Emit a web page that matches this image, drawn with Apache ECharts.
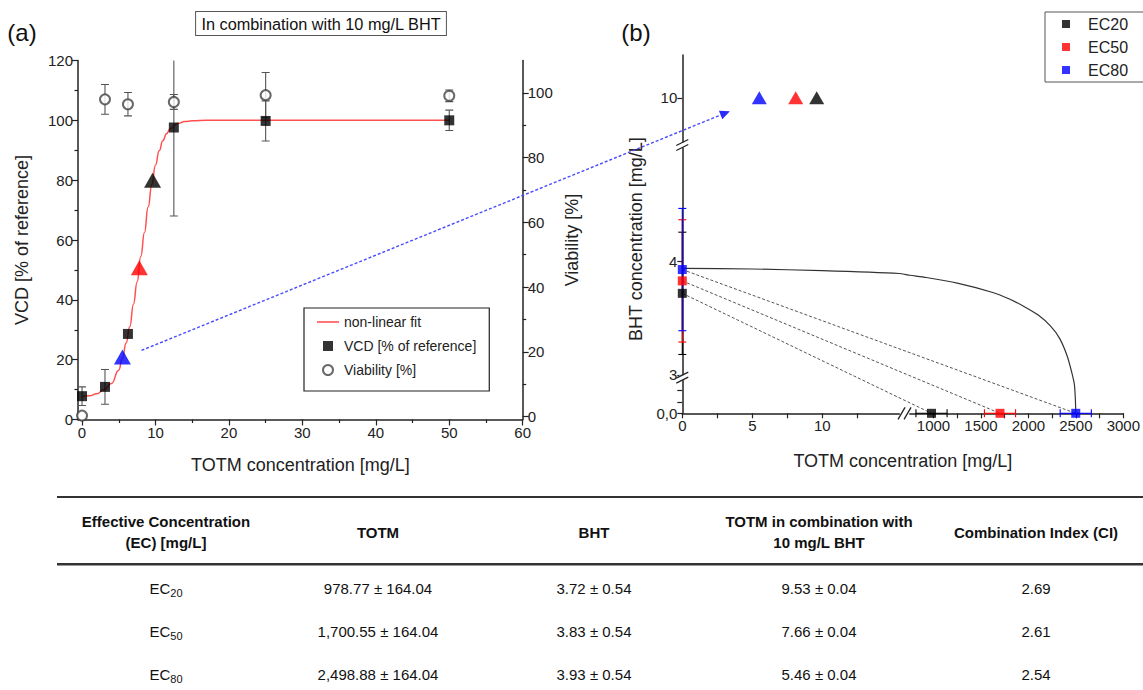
<!DOCTYPE html>
<html>
<head>
<meta charset="utf-8">
<title>TOTM + BHT</title>
<script src="https://cdn.jsdelivr.net/npm/echarts@6.0.0/dist/echarts.min.js"></script>
<style>
html,body{margin:0;padding:0;background:#ffffff;}
#chart{width:1143px;height:690px;}
</style>
</head>
<body>
<div id="chart"></div>
<script>
// ===== Panel (a) data =====
const totmConc = [0, 3.125, 6.25, 12.5, 25, 50];
const vcdMean = [7.8, 10.9, 28.6, 97.6, 99.8, 100.0];
const vcdSd = [3.1, 5.8, 0, 29.6, 6.7, 3.4];
const viabMean = [0.3, 98.0, 96.5, 97.2, 99.3, 99.1];
const viabSd = [0, 4.6, 3.6, 2.3, 7.0, 1.8];
const fitX = [0, 1, 2, 3, 4, 5, 5.5, 6, 6.5, 7, 7.5, 8, 8.5, 9, 9.5, 10, 10.5, 11, 11.5, 12, 13, 14, 15, 17, 20, 30, 40, 50];
const fitY = [7.7, 7.9, 8.6, 10, 12, 16.5, 20.5, 25.6, 31, 38.5, 46, 54.5, 62.5, 71, 78.5, 85, 89.8, 93.2, 95.5, 97.2, 98.9, 99.6, 99.85, 100, 100, 100, 100, 100];
const aTriX = [9.6, 7.8, 5.5];      // EC20, EC50, EC80 (TOTM with 10 mg/L BHT)
const aTriY = [80, 50.7, 20.9];     // VCD level
const arrowFrom = [8.1, 23.1];      // panel (a) data coords
const arrowTo = [3.4, 9.88];        // panel (b) data coords
const aXTicks = [0, 10, 20, 30, 40, 50, 60];
const aXMinor = [5, 15, 25, 35, 45, 55];
const aY2Ticks = [0, 20, 40, 60, 80, 100];
const aY2Minor = [10, 30, 50, 70, 90];

// ===== Panel (b) data =====
const ecNames = ['EC20', 'EC50', 'EC80'];
const ecColors = ['#000000', '#ff0000', '#0000ff'];
const ecTotm = [978.77, 1700.55, 2498.88];
const ecTotmSd = [164.04, 164.04, 164.04];
const ecBht = [3.72, 3.83, 3.93];
const ecBhtSd = [0.54, 0.54, 0.54];
const bhtCombo = [10, 10, 10];
const totmCombo = [9.6, 8.1, 5.5];
const isoLeft = [[0, 3.94], [5, 3.935], [10, 3.92], [15.5, 3.895]];
const isoRight = [[750, 3.88], [924, 3.86], [1250, 3.81], [1615, 3.73], [1800, 3.67], [1962, 3.60], [2100, 3.53], [2234, 3.43], [2330, 3.32], [2411, 3.16], [2463, 3.0]];
const isoBottom = [[2485, 0.25], [2495, 0.12], [2498.88, 0]];
const bXLeftRange = [0, 15.5];
const bXRightRange = [750, 3000];
const bYTopRange = [9.58, 10.38];
const bYMidRange = [2.99, 5.03];
const bYBotRange = [0, 0.3];
const bXLeftLabels = [0, 5, 10];
const bXLeftTicks = [0, 2.5, 5, 7.5, 10, 12.5];
const bXRightLabels = [1000, 1500, 2000, 2500, 3000];
const bXRightTicks = [1000, 1250, 1500, 1750, 2000, 2250, 2500, 2750, 3000];

// ===== Table =====
const tableHeader = ['Effective Concentration\n(EC) [mg/L]', 'TOTM', 'BHT', 'TOTM in combination with\n10 mg/L BHT', 'Combination Index (CI)'];
const tableEcSub = ['20', '50', '80'];
const tableTotm = ['978.77 ± 164.04', '1,700.55 ± 164.04', '2,498.88 ± 164.04'];
const tableBht = ['3.72 ± 0.54', '3.83 ± 0.54', '3.93 ± 0.54'];
const tableCombo = ['9.53 ± 0.04', '7.66 ± 0.04', '5.46 ± 0.04'];
const tableCi = ['2.69', '2.61', '2.54'];

// ===== Styling / layout =====
const FONT = '"Liberation Sans", Arial, Helvetica, sans-serif';
const AX = '#222';
const SQUARE = 'path://M0,0L10,0L10,10L0,10Z';
const SHORTLINE = 'path://M0,0L18,0L18,1.3L0,1.3Z';
const chart = echarts.init(document.getElementById('chart'), null, { renderer: 'svg', width: 1143, height: 690 });

function axis(o) {
  const base = {
    type: 'value', splitLine: { show: false }, minorSplitLine: { show: false },
    axisLine: { show: true, onZero: false, lineStyle: { color: AX, width: 1.5 } },
    axisTick: { show: true, length: 6, lineStyle: { color: AX, width: 1.2 } },
    axisLabel: { show: true, color: AX, fontSize: 15, fontFamily: FONT, margin: 5, formatter: v => String(v) },
    nameTextStyle: { color: AX, fontSize: 18, fontFamily: FONT }
  };
  const r = Object.assign({}, base, o);
  ['axisLine', 'axisTick', 'axisLabel', 'nameTextStyle'].forEach(k => {
    if (o[k]) r[k] = Object.assign({}, base[k], o[k]);
  });
  return r;
}

function errSeries(xs, ys, errs, xi, yi, colors, dir, clip, cap) {
  return {
    type: 'custom', xAxisIndex: xi, yAxisIndex: yi, clip: clip, silent: true, z: 3,
    data: xs.map((x, i) => [x, ys[i], errs[i], i]),
    renderItem: function (params, api) {
      const x = api.value(0), y = api.value(1), e = api.value(2), idx = api.value(3);
      if (!e) return null;
      const color = Array.isArray(colors) ? colors[idx] : colors;
      const st = { stroke: color, lineWidth: 1.1, fill: null };
      let a, b, c1, c2;
      if (dir === 'v') {
        a = api.coord([x, y - e]); b = api.coord([x, y + e]);
        c1 = { x1: a[0] - cap, y1: a[1], x2: a[0] + cap, y2: a[1] };
        c2 = { x1: b[0] - cap, y1: b[1], x2: b[0] + cap, y2: b[1] };
      } else {
        a = api.coord([x - e, y]); b = api.coord([x + e, y]);
        c1 = { x1: a[0], y1: a[1] - cap, x2: a[0], y2: a[1] + cap };
        c2 = { x1: b[0], y1: b[1] - cap, x2: b[0], y2: b[1] + cap };
      }
      return {
        type: 'group', children: [
          { type: 'line', shape: { x1: a[0], y1: a[1], x2: b[0], y2: b[1] }, style: st },
          { type: 'line', shape: c1, style: st },
          { type: 'line', shape: c2, style: st }
        ]
      };
    }
  };
}

const option = {
  backgroundColor: '#ffffff',
  animation: false,
  textStyle: { fontFamily: FONT },
  grid: [
    { left: 78, top: 60.5, width: 444.7, height: 359 },          // (a)
    { left: 682.3, top: 55, width: 217, height: 90 },             // (b) top-left
    { left: 682.3, top: 145, width: 217, height: 231 },           // (b) mid-left
    { left: 682.3, top: 379.3, width: 217, height: 34 },          // (b) bottom-left
    { left: 909.8, top: 379.3, width: 216.9, height: 34 }         // (b) bottom-right
  ],
  xAxis: [
    axis({ gridIndex: 0, min: -0.55, max: 60, position: 'bottom',
      name: 'TOTM concentration [mg/L]', nameLocation: 'middle', nameGap: 36,
      axisLabel: { customValues: aXTicks }, axisTick: { customValues: aXTicks } }),
    axis({ gridIndex: 0, min: -0.55, max: 60, position: 'bottom',
      axisLine: { show: false }, axisLabel: { show: false },
      axisTick: { customValues: aXMinor, length: 3.5 } }),
    axis({ gridIndex: 1, min: bXLeftRange[0], max: bXLeftRange[1], show: false }),
    axis({ gridIndex: 2, min: bXLeftRange[0], max: bXLeftRange[1], show: false }),
    axis({ gridIndex: 3, min: bXLeftRange[0], max: bXLeftRange[1], position: 'bottom',
      axisLabel: { customValues: bXLeftLabels }, axisTick: { customValues: bXLeftTicks, length: 5 } }),
    axis({ gridIndex: 4, min: bXRightRange[0], max: bXRightRange[1], position: 'bottom',
      axisLabel: { customValues: bXRightLabels }, axisTick: { customValues: bXRightTicks, length: 5 } })
  ],
  yAxis: [
    axis({ gridIndex: 0, min: 0, max: 120, interval: 20, position: 'left',
      name: 'VCD [% of reference]', nameLocation: 'middle', nameGap: 47,
      minorTick: { show: true, splitNumber: 2, length: 3.5, lineStyle: { color: AX, width: 1.2 } } }),
    axis({ gridIndex: 0, min: -0.9, max: 110, position: 'right',
      name: 'Viability [%]', nameLocation: 'middle', nameGap: 40, nameRotate: 90,
      axisLabel: { customValues: aY2Ticks }, axisTick: { customValues: aY2Ticks } }),
    axis({ gridIndex: 0, min: -0.9, max: 110, position: 'right',
      axisLine: { show: false }, axisLabel: { show: false },
      axisTick: { customValues: aY2Minor, length: 3.5 } }),
    axis({ gridIndex: 1, min: bYTopRange[0], max: bYTopRange[1], position: 'left',
      axisLabel: { customValues: [10] }, axisTick: { customValues: [10], length: 5 } }),
    axis({ gridIndex: 2, min: bYMidRange[0], max: bYMidRange[1], position: 'left',
      axisLabel: { customValues: [3, 4] }, axisTick: { customValues: [3, 4], length: 5 } }),
    axis({ gridIndex: 3, min: bYBotRange[0], max: bYBotRange[1], position: 'left',
      axisLabel: { customValues: [0], formatter: () => '0,0' },
      axisTick: { customValues: [0, 0.1, 0.2], length: 5 } }),
    axis({ gridIndex: 4, min: bYBotRange[0], max: bYBotRange[1], show: false })
  ],
  legend: [
    {
      data: [{ name: 'non-linear fit', icon: SHORTLINE }, { name: 'VCD [% of reference]', icon: SQUARE }, { name: 'Viability [%]', icon: 'emptyCircle' }],
      orient: 'vertical', left: 304, top: 308, padding: [7, 13, 14, 13], itemGap: 10,
      itemWidth: 22, itemHeight: 10, symbolKeepAspect: true, borderColor: '#222', borderWidth: 1.2, borderRadius: 0,
      textStyle: { fontSize: 14, fontFamily: FONT, color: '#222' }, selectedMode: false
    },
    {
      data: ecNames.map(n => ({ name: n, icon: SQUARE })),
      orient: 'vertical', left: 1045, top: 12, padding: [4, 26, 4, 17], itemGap: 7,
      itemWidth: 34, itemHeight: 8, symbolKeepAspect: true, borderColor: '#555', borderWidth: 1, borderRadius: 0,
      textStyle: { fontSize: 16, fontFamily: FONT, color: '#222' }, selectedMode: false
    }
  ],
  series: [
    { type: 'line', name: 'non-linear fit', xAxisIndex: 0, yAxisIndex: 0, z: 2,
      data: fitX.map((x, i) => [x, fitY[i]]), symbol: 'none', smooth: true, smoothMonotone: 'x',
      lineStyle: { color: '#ff5050', width: 1.5 }, itemStyle: { color: '#ff5050' } },
    errSeries(totmConc, vcdMean, vcdSd, 0, 0, '#555', 'v', true, 4),
    errSeries(totmConc, viabMean, viabSd, 0, 1, '#555', 'v', true, 4),
    { type: 'scatter', name: 'Viability [%]', xAxisIndex: 0, yAxisIndex: 1, z: 4, clip: false,
      data: totmConc.map((x, i) => [x, viabMean[i]]), symbol: 'emptyCircle', symbolSize: 10,
      itemStyle: { color: '#444', borderWidth: 1 } },
    { type: 'scatter', name: 'VCD [% of reference]', xAxisIndex: 0, yAxisIndex: 0, z: 5, clip: false,
      data: totmConc.map((x, i) => [x, vcdMean[i]]), symbol: 'rect', symbolSize: 10,
      itemStyle: { color: '#000' } },
    { type: 'scatter', name: 'EC points (a)', xAxisIndex: 0, yAxisIndex: 0, z: 6, clip: false,
      data: aTriX.map((x, i) => ({ value: [x, aTriY[i]], itemStyle: { color: ecColors[i] } })),
      symbol: 'triangle', symbolSize: [17, 15] },
    // (b) vertical error bars (BHT alone)
    errSeries([0, 0, 0], ecBht, ecBhtSd, 3, 4, ecColors, 'v', false, 4),
    // (b) horizontal error bars (TOTM alone)
    errSeries(ecTotm, [0, 0, 0], ecTotmSd, 5, 6, ecColors, 'h', false, 4),
    // (b) triangles at 10 mg/L BHT
    { type: 'scatter', name: 'EC points (b)', xAxisIndex: 2, yAxisIndex: 3, z: 6, clip: false,
      data: totmCombo.map((x, i) => ({ value: [x, bhtCombo[i]], itemStyle: { color: ecColors[i] } })),
      symbol: 'triangle', symbolSize: [15, 13] }
  ].concat(ecNames.map((n, i) => ({
    type: 'scatter', name: n, xAxisIndex: 3, yAxisIndex: 4, z: 6, clip: false,
    data: [[0, ecBht[i]]], symbol: 'rect', symbolSize: 9, itemStyle: { color: ecColors[i] }
  }))).concat(ecNames.map((n, i) => ({
    type: 'scatter', name: n, xAxisIndex: 5, yAxisIndex: 6, z: 6, clip: false,
    data: [[ecTotm[i], 0]], symbol: 'rect', symbolSize: 9, itemStyle: { color: ecColors[i] }
  })))
};
chart.setOption(option);

// ===== Overlays computed through the chart's own axes =====
const cx = (xi, v) => chart.convertToPixel({ xAxisIndex: xi }, v);
const cy = (yi, v) => chart.convertToPixel({ yAxisIndex: yi }, v);
const els = [];

// panel labels & title box
els.push({ type: 'text', x: 22, y: 32, style: { text: '(a)', fontSize: 24, fontFamily: FONT, fill: '#111', align: 'center', verticalAlign: 'middle' } });
els.push({ type: 'text', x: 636, y: 32, style: { text: '(b)', fontSize: 24, fontFamily: FONT, fill: '#111', align: 'center', verticalAlign: 'middle' } });
els.push({ type: 'text', x: 321, y: 23.5, style: {
  text: 'In combination with 10 mg/L BHT', fontSize: 16.3, fontFamily: FONT, fill: '#111',
  align: 'center', verticalAlign: 'middle', borderColor: '#555', borderWidth: 1, padding: [4, 5, 3, 5], backgroundColor: '#fff' } });

// (b) axis titles
const bx0 = cx(3, bXLeftRange[0]), bxEnd = cx(5, bXRightRange[1]);
const byTop = cy(3, bYTopRange[1]), byBot = cy(5, 0);
els.push({ type: 'text', x: (bx0 + bxEnd) / 2, y: byBot + 48, style: { text: 'TOTM concentration [mg/L]', fontSize: 18, fontFamily: FONT, fill: AX, align: 'center', verticalAlign: 'middle' } });
els.push({ type: 'text', x: bx0 - 46, y: (byTop + byBot) / 2 + 5, rotation: Math.PI / 2, style: { text: 'BHT concentration [mg/L]', fontSize: 18, fontFamily: FONT, fill: AX, align: 'center', verticalAlign: 'middle' } });

// dashed connecting lines
ecNames.forEach((n, i) => {
  els.push({ type: 'line', z: 1, shape: { x1: cx(3, 0), y1: cy(4, ecBht[i]), x2: cx(5, ecTotm[i]), y2: cy(6, 0) },
    style: { stroke: '#555', lineWidth: 1, lineDash: [3, 2] } });
});

// isobologram curve
const isoPts = isoLeft.map(p => [cx(3, p[0]), cy(4, p[1])])
  .concat(isoRight.map(p => [cx(5, p[0]), cy(4, p[1])]))
  .concat(isoBottom.map(p => [cx(5, p[0]), cy(6, p[1])]));
els.push({ type: 'polyline', z: 1, shape: { points: isoPts, smooth: 0.25 }, style: { stroke: '#333', lineWidth: 1.2, fill: null } });

// axis break marks
function yBreak(ax, gy) {
  els.push({ type: 'rect', z: 10, shape: { x: ax - 3, y: gy - 2.5, width: 6, height: 5 }, style: { fill: '#fff' } });
  [-2.5, 2.5].forEach(d => els.push({ type: 'line', z: 11, shape: { x1: ax - 6, y1: gy + d + 3, x2: ax + 6, y2: gy + d - 3 }, style: { stroke: AX, lineWidth: 1.3 } }));
}
yBreak(bx0, (cy(4, bYMidRange[0]) + cy(5, bYBotRange[1])) / 2);
yBreak(bx0, cy(3, bYTopRange[0]));
const gx = (cx(4, bXLeftRange[1]) + cx(5, bXRightRange[0])) / 2;
els.push({ type: 'rect', z: 10, shape: { x: gx - 3, y: byBot - 2, width: 6, height: 4 }, style: { fill: '#fff' } });
[-3, 3].forEach(d => els.push({ type: 'line', z: 11, shape: { x1: gx + d - 3.5, y1: byBot + 6, x2: gx + d + 3.5, y2: byBot - 6 }, style: { stroke: AX, lineWidth: 1.3 } }));

// blue dashed arrow from (a) to (b)
const A = [cx(0, arrowFrom[0]), cy(0, arrowFrom[1])];
const B = [cx(2, arrowTo[0]), cy(3, arrowTo[1])];
const dx = B[0] - A[0], dy = B[1] - A[1], L = Math.hypot(dx, dy), ux = dx / L, uy = dy / L;
const hl = 10, hw = 4.5;
els.push({ type: 'line', z: 7, shape: { x1: A[0], y1: A[1], x2: B[0] - ux * hl, y2: B[1] - uy * hl }, style: { stroke: '#4a4aff', lineWidth: 1.4, lineDash: [3, 2] } });
els.push({ type: 'polygon', z: 7, shape: { points: [B, [B[0] - ux * hl - uy * hw, B[1] - uy * hl + ux * hw], [B[0] - ux * hl + uy * hw, B[1] - uy * hl - ux * hw]] }, style: { fill: '#2a2aff' } });

// ===== Table =====
const colX = [166, 378, 594, 819, 1036];
const rowY = [588, 631, 674];
const TF = '"Liberation Sans", Arial, sans-serif';
els.push({ type: 'rect', shape: { x: 57, y: 496, width: 1086, height: 2 }, style: { fill: '#333' } });
els.push({ type: 'rect', shape: { x: 57, y: 563, width: 1086, height: 2 }, style: { fill: '#333' } });
els.push({ type: 'rect', shape: { x: 57, y: 565, width: 1086, height: 1 }, style: { fill: '#999' } });
tableHeader.forEach((h, j) => {
  els.push({ type: 'text', x: colX[j], y: 532, style: { text: h, fontSize: 15, fontWeight: 'bold', fontFamily: TF, fill: '#111', align: 'center', verticalAlign: 'middle', lineHeight: 21 } });
});
tableEcSub.forEach((s, i) => {
  els.push({ type: 'text', x: colX[0], y: rowY[i], style: {
    text: '{m|EC}{s|' + s + '}', align: 'center', verticalAlign: 'middle', fill: '#111',
    rich: { m: { fontSize: 15, fontFamily: TF, fill: '#111', verticalAlign: 'middle', lineHeight: 20 },
            s: { fontSize: 11, fontFamily: TF, fill: '#111', verticalAlign: 'bottom', padding: [8, 0, 0, 0], lineHeight: 20 } } } });
  [tableTotm, tableBht, tableCombo, tableCi].forEach((col, j) => {
    els.push({ type: 'text', x: colX[j + 1], y: rowY[i], style: { text: col[i], fontSize: 15, fontFamily: TF, fill: '#111', align: 'center', verticalAlign: 'middle' } });
  });
});

chart.setOption({ graphic: { elements: els } });
</script>
</body>
</html>
